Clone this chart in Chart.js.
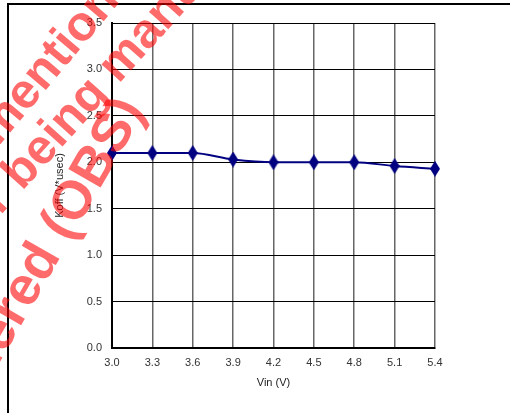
<!DOCTYPE html>
<html>
<head>
<meta charset="utf-8">
<script src="https://cdn.jsdelivr.net/npm/chart.js@4.4.0/dist/chart.umd.min.js"></script>
<style>
  html, body { margin: 0; padding: 0; background: #fff; }
</style>
</head>
<body>
<canvas id="chart" width="510" height="413"></canvas>
<script>
// data
const vin = [3.0, 3.3, 3.6, 3.9, 4.2, 4.5, 4.8, 5.1, 5.4];
const koff = [2.10, 2.10, 2.10, 2.03, 2.00, 2.00, 2.00, 1.96, 1.93];
const xTicks = [3.0, 3.3, 3.6, 3.9, 4.2, 4.5, 4.8, 5.1, 5.4];
const yTicks = [0.0, 0.5, 1.0, 1.5, 2.0, 2.5, 3.0, 3.5];
const watermarkLines = ['The product in mention', 'is no longer being manufactured', 'or is considered (OBS)'];

const FONT = '"Liberation Sans", Arial, sans-serif';
const tickFont = { family: FONT, size: 11 };

function diamond(w, h, color) {
  const c = document.createElement('canvas');
  c.width = w; c.height = h;
  const g = c.getContext('2d');
  g.fillStyle = color;
  g.beginPath();
  g.moveTo(w / 2, 0); g.lineTo(w, h / 2); g.lineTo(w / 2, h); g.lineTo(0, h / 2);
  g.closePath();
  g.fill();
  return c;
}

const frame = {
  id: 'frame',
  beforeDraw(chart) {
    const ctx = chart.ctx;
    ctx.save();
    ctx.strokeStyle = '#000';
    ctx.lineWidth = 2;
    ctx.strokeRect(8, 4, 700, 700);
    ctx.restore();
  }
};

// red "obsolete" stamp drawn over the chart
const watermark = {
  id: 'watermark',
  afterDraw(chart) {
    const ctx = chart.ctx;
    const place = [
      { at: watermarkLines[0].lastIndexOf('o'), x: 82, y: 27, angle: 50, size: 49 },
      { at: watermarkLines[1].indexOf('g '), x: 90, y: 97, angle: 48, size: 49 },
      { at: watermarkLines[2].indexOf('O'), x: 76, y: 202, angle: 60, size: 54 }
    ];
    ctx.save();
    ctx.fillStyle = 'rgba(255, 0, 0, 0.58)';
    ctx.textBaseline = 'alphabetic';
    ctx.textAlign = 'left';
    watermarkLines.forEach((txt, i) => {
      const p = place[i];
      ctx.font = 'bold ' + p.size + 'px ' + FONT;
      const pre = ctx.measureText(txt.slice(0, p.at)).width;
      const cw = ctx.measureText(txt[p.at]).width;
      ctx.save();
      ctx.translate(p.x, p.y);
      ctx.rotate(-p.angle * Math.PI / 180);
      ctx.fillText(txt, -pre - cw / 2, 0.26 * p.size);
      ctx.restore();
    });
    ctx.restore();
  }
};

new Chart(document.getElementById('chart'), {
  type: 'line',
  data: {
    datasets: [{
      data: vin.map((v, i) => ({ x: v, y: koff[i] })),
      borderColor: '#000080',
      borderWidth: 2,
      cubicInterpolationMode: 'monotone',
      pointStyle: diamond(10, 16, '#000080'),
      pointRadius: 5,
      clip: false
    }]
  },
  options: {
    responsive: false,
    animation: false,
    events: [],
    layout: { padding: { left: 0, top: 23, right: 75, bottom: 0 } },
    scales: {
      x: {
        type: 'linear',
        min: 3.0,
        max: 5.4,
        afterBuildTicks: s => { s.ticks = xTicks.map(v => ({ value: v })); },
        afterFit: s => { s.height = 65; },
        ticks: { callback: v => v.toFixed(1), padding: 8, color: '#333', font: tickFont },
        grid: { color: '#666', lineWidth: 1.5, drawTicks: false },
        border: { color: '#000', width: 2 },
        title: { display: true, text: 'Vin (V)', color: '#222', font: tickFont, padding: { top: 0, bottom: 23 } }
      },
      y: {
        min: 0,
        max: 3.5,
        afterBuildTicks: s => { s.ticks = yTicks.map(v => ({ value: v })); },
        afterFit: s => { s.width = 112; },
        ticks: { callback: v => v.toFixed(1), padding: 10, color: '#333', font: tickFont },
        grid: { color: '#000', lineWidth: 1, drawTicks: false },
        border: { color: '#000', width: 2 },
        title: { display: true, text: 'Koff (V*usec)', color: '#222', font: tickFont, padding: { top: 53, bottom: 0 } }
      }
    },
    plugins: { legend: { display: false }, tooltip: { enabled: false } }
  },
  plugins: [frame, watermark]
});
</script>
</body>
</html>
